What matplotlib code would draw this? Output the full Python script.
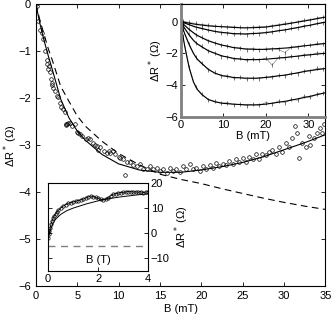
import numpy as np
import matplotlib.pyplot as plt

plt.rcParams['font.family'] = ['Liberation Sans', 'DejaVu Sans']
plt.rcParams['font.size'] = 8

# main panel: measured points (B in mT, dR* in Ohm)
main_b = [0.05, 0.1, 0.3, 0.5, 0.7, 0.9, 1.1, 1.3, 1.4, 1.5, 1.6, 1.7, 1.8, 1.9, 2.0, 2.1,
          2.3, 2.5, 2.7, 2.9, 3.1, 3.3, 3.5, 3.6, 3.7, 3.8, 3.9, 4.1, 4.4, 4.7, 5.0, 5.1,
          5.3, 5.6, 6.1, 6.3, 6.5, 6.9, 7.2, 7.4, 7.5, 7.8, 8.2, 8.6, 8.8, 9.0, 9.3, 9.6,
          10.0, 10.2, 10.5, 10.8, 11.0, 11.4, 11.8, 12.2, 12.6, 13.0, 13.4, 13.8, 14.2,
          14.6, 15.0, 15.4, 15.8, 16.2, 16.6, 17.0, 17.4, 17.8, 18.2, 18.6, 19.0, 19.4,
          19.8, 20.2, 20.6, 21.0, 21.4, 21.8, 22.2, 22.6, 23.0, 23.4, 23.8, 24.2, 24.6,
          25.0, 25.4, 25.8, 26.2, 26.6, 27.0, 27.4, 27.8, 28.2, 28.6, 29.0, 29.4, 29.8,
          30.2, 30.6, 31.0, 31.3, 31.6, 31.8, 32.2, 32.6, 33.0, 33.2, 33.6, 34.0, 34.3,
          34.6, 34.8]
main_r = [0.0, -0.05, -0.35, -0.55, -0.62, -0.75, -1.0, -1.2, -1.28, -1.38, -1.32, -1.45,
          -1.6, -1.67, -1.72, -1.78, -1.85, -1.96, -1.98, -2.1, -2.18, -2.24, -2.3, -2.55,
          -2.58, -2.55, -2.52, -2.53, -2.6, -2.56, -2.72, -2.74, -2.76, -2.8, -2.88, -2.85,
          -2.88, -2.95, -3.0, -3.03, -3.1, -3.05, -3.12, -3.17, -3.13, -3.17, -3.13, -3.2,
          -3.25, -3.27, -3.3, -3.63, -3.37, -3.35, -3.42, -3.45, -3.4, -3.5, -3.52, -3.45,
          -3.5, -3.48, -3.55, -3.52, -3.6, -3.48, -3.56, -3.5, -3.58, -3.45, -3.52, -3.4,
          -3.52, -3.48, -3.55, -3.44, -3.5, -3.42, -3.48, -3.38, -3.45, -3.4, -3.42, -3.33,
          -3.4, -3.3, -3.36, -3.28, -3.35, -3.25, -3.3, -3.2, -3.3, -3.18, -3.22, -3.15,
          -3.1, -3.2, -3.05, -3.15, -2.95, -3.05, -2.85, -2.6, -2.74, -3.27, -2.95, -3.05,
          -2.8, -2.99, -2.85, -2.74, -2.63, -2.75, -2.55]

# main panel: model curves
fit_b = [0, 0.5, 1, 1.5, 2, 3, 4, 5, 6, 8, 10, 12.5, 15, 17.5, 20, 22.5, 25, 27.5, 30, 32.5, 35]
fit_solid = [0, -0.42, -0.78, -1.1, -1.4, -2.02, -2.42, -2.7, -2.9, -3.2, -3.4, -3.53, -3.58,
             -3.58, -3.53, -3.46, -3.37, -3.25, -3.1, -2.95, -2.78]
fit_dashed = [0, -0.35, -0.65, -0.95, -1.2, -1.75, -2.07, -2.38, -2.6, -2.92, -3.18, -3.42,
              -3.62, -3.73, -3.82, -3.93, -4.03, -4.13, -4.22, -4.3, -4.37]

# inset 1: six temperatures, data and fits
ins1_b = [0.5, 2, 3.5, 5, 6.5, 8, 9.5, 11, 12.5, 14, 15.5, 17, 18.5, 20, 21.5, 23, 24.5, 26,
          27.5, 29, 30.5, 32, 33.5]
ins1_data = [
    [0.02, -0.05, -0.12, -0.2, -0.22, -0.28, -0.3, -0.32, -0.34, -0.36, -0.38, -0.35, -0.33,
     -0.32, -0.25, -0.2, -0.12, -0.08, 0.0, 0.08, 0.12, 0.22, 0.28],
    [-0.05, -0.18, -0.38, -0.42, -0.56, -0.6, -0.72, -0.7, -0.8, -0.75, -0.82, -0.72, -0.76,
     -0.66, -0.67, -0.55, -0.55, -0.42, -0.4, -0.26, -0.24, -0.1, -0.08],
    [-0.15, -0.45, -0.85, -1.0, -1.25, -1.32, -1.5, -1.52, -1.66, -1.64, -1.76, -1.7, -1.78,
     -1.72, -1.7, -1.75, -1.95, -1.6, -1.62, -1.5, -1.5, -1.38, -1.4],
    [-0.25, -0.8, -1.35, -1.55, -1.88, -1.95, -2.2, -2.2, -2.38, -2.32, -2.45, -2.35, -2.42,
     -2.3, -2.75, -2.25, -2.3, -2.18, -2.2, -2.08, -2.12, -1.98, -2.0],
    [-0.45, -1.4, -2.25, -2.6, -3.05, -3.2, -3.42, -3.4, -3.58, -3.5, -3.62, -3.55, -3.6,
     -3.48, -3.52, -3.38, -3.42, -3.25, -3.28, -3.1, -3.12, -2.95, -2.98],
    [-0.9, -2.85, -4.15, -4.55, -4.95, -5.0, -5.15, -5.1, -5.25, -5.2, -5.3, -5.2, -5.28,
     -5.1, -5.18, -5.0, -5.1, -4.9, -4.95, -4.7, -4.78, -4.55, -4.52],
]
ins1_fit_b = [0, 0.5, 1, 2, 3, 4, 5, 6.5, 8, 10, 12.5, 15, 17.5, 20, 25, 30, 35]
ins1_fits = [
    [0, -0.02, -0.05, -0.1, -0.15, -0.19, -0.22, -0.27, -0.3, -0.33, -0.37, -0.4, -0.38,
     -0.35, -0.15, 0.08, 0.33],
    [0, -0.05, -0.1, -0.2, -0.29, -0.37, -0.44, -0.53, -0.62, -0.69, -0.76, -0.78, -0.75,
     -0.7, -0.5, -0.25, 0.02],
    [0, -0.12, -0.25, -0.5, -0.7, -0.88, -1.02, -1.2, -1.35, -1.5, -1.64, -1.72, -1.75,
     -1.75, -1.66, -1.5, -1.35],
    [0, -0.22, -0.45, -0.85, -1.18, -1.42, -1.6, -1.83, -2.0, -2.18, -2.32, -2.39, -2.4,
     -2.37, -2.25, -2.1, -1.97],
    [0, -0.42, -0.8, -1.45, -2.0, -2.4, -2.65, -3.0, -3.25, -3.42, -3.52, -3.56, -3.57,
     -3.52, -3.35, -3.1, -2.92],
    [0, -0.85, -1.6, -2.9, -3.8, -4.3, -4.6, -4.9, -5.05, -5.15, -5.2, -5.24, -5.25, -5.2,
     -5.0, -4.73, -4.42],
]

# inset 2: high field (B in T)
ins2_b = [0.0, 0.02, 0.05, 0.08, 0.12, 0.16, 0.2, 0.25, 0.3, 0.35, 0.4, 0.5, 0.6, 0.7, 0.8,
          0.9, 1.0, 1.1, 1.2, 1.3, 1.4, 1.5, 1.6, 1.7, 1.8, 1.9, 2.0, 2.1, 2.2, 2.3, 2.4,
          2.5, 2.6, 2.7, 2.8, 2.9, 3.0, 3.1, 3.2, 3.3, 3.4, 3.5, 3.6, 3.7, 3.8, 3.9, 4.0]
ins2_r = [-2.0, 1.0, -0.5, 2.0, 3.8, 5.0, 6.0, 7.0, 7.8, 8.5, 9.1, 10.0, 10.8, 11.4, 11.9,
          12.2, 12.5, 12.7, 13.0, 13.3, 13.6, 14.0, 14.5, 14.8, 14.6, 14.3, 13.9, 13.5, 13.4,
          13.6, 14.2, 14.9, 15.5, 15.8, 16.0, 16.2, 16.3, 16.4, 16.6, 16.6, 16.4, 16.5, 16.3,
          16.6, 16.2, 16.4, 16.5]
ins2_fit_b = [0, 0.1, 0.2, 0.3, 0.5, 0.75, 1.0, 1.5, 2.0, 2.5, 3.0, 3.5, 4.0]
ins2_fit_r = [-2, 1.5, 4.0, 5.6, 7.5, 9.0, 10.0, 11.6, 12.9, 13.9, 14.6, 15.2, 15.7]
ins2_level = -5

fig = plt.figure(figsize=(3.32, 3.15), dpi=100)
ax = fig.add_axes([0.108, 0.092, 0.872, 0.895])
ax.plot(main_b, main_r, 'o', ms=2.6, mfc='none', mec='black', mew=0.5)
ax.plot(fit_b, fit_solid, '-', color='black', lw=0.8)
ax.plot(fit_b, fit_dashed, '--', color='black', lw=0.8, dashes=(6, 4))
ax.set_xlim(0, 35)
ax.set_ylim(-6, 0)
ax.set_xticks(np.arange(0, 36, 5))
ax.set_yticks(np.arange(-6, 1, 1))
ax.set_yticklabels(['\u22126', '\u22125', '\u22124', '\u22123', '\u22122', '\u22121', '0'])
ax.tick_params(direction='in', length=3, width=0.6, top=True, right=True, labelsize=8)
ax.set_xlabel('B (mT)', fontsize=8, labelpad=2)
ax.set_ylabel('\u0394R$^*$ (\u03a9)', fontsize=8, labelpad=-1)
for s in ax.spines.values():
    s.set_linewidth(0.8)

# inset 1
ax1 = fig.add_axes([0.544, 0.629, 0.436, 0.358])
for d in ins1_data:
    ax1.plot(ins1_b, d, color='0.55', lw=0.5, marker='|', ms=2.2, mec='0.25', mew=0.5)
for f in ins1_fits:
    ax1.plot(ins1_fit_b, f, '-', color='black', lw=0.8)
ax1.set_xlim(0, 34)
ax1.set_ylim(-6, 1.1)
ax1.set_xticks([0, 10, 20, 30])
ax1.set_yticks([-6, -4, -2, 0])
ax1.set_yticklabels(['\u22126', '\u22124', '\u22122', '0'])
ax1.tick_params(direction='in', length=3, width=0.6, top=True, right=True, labelsize=8, pad=2)
ax1.set_xlabel('B (mT)', fontsize=8, labelpad=1)
ax1.set_ylabel('\u0394R$^*$ (\u03a9)', fontsize=8, labelpad=0)
ax1.spines['left'].set_color('0.5')
ax1.spines['left'].set_linewidth(2)
ax1.spines['bottom'].set_color('0.5')
ax1.spines['bottom'].set_linewidth(2)

# inset 2
ax2 = fig.add_axes([0.145, 0.14, 0.301, 0.279])
ax2.plot(ins2_b, ins2_r, '-o', color='black', lw=0.6, ms=2.4, mfc='none', mew=0.5)
ax2.plot(ins2_fit_b, ins2_fit_r, '-', color='black', lw=0.7)
ax2.axhline(ins2_level, color='0.5', lw=1, ls='--', dashes=(5, 4))
ax2.set_xlim(0, 4)
ax2.set_ylim(-15, 20)
ax2.set_xticks([0, 2, 4])
ax2.set_yticks([-10, 0, 10, 20])
ax2.set_yticklabels(['\u221210', '0', '10', '20'])
ax2.yaxis.tick_right()
ax2.yaxis.set_label_position('right')
ax2.tick_params(direction='in', length=3, width=0.6, left=True, right=True, labelsize=8, pad=2)
ax2.set_ylabel('\u0394R$^*$ (\u03a9)', fontsize=8, labelpad=2)
ax2.text(0.5, 0.12, 'B (T)', transform=ax2.transAxes, ha='center', va='center', fontsize=8)

fig.savefig('out.png', dpi=100)
